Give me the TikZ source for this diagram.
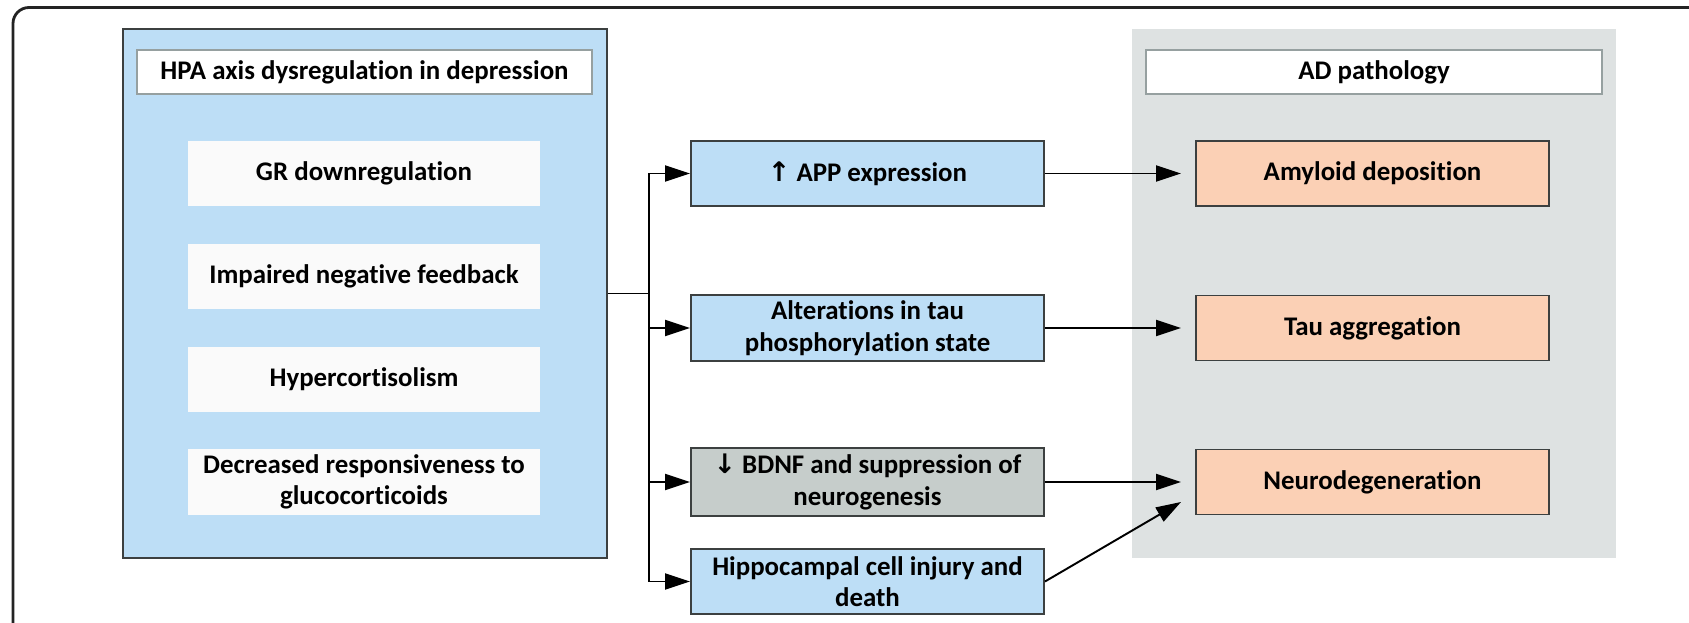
\documentclass[tikz,border=0pt]{standalone}
\usepackage{fontspec}
\setmainfont{Carlito}[Ligatures=NoCommon]
\newfontfamily\arrowfont{DejaVu Sans}
\usetikzlibrary{arrows.meta}

\definecolor{hpablue}{RGB}{189,222,246}
\definecolor{bdnfgray}{RGB}{198,205,203}
\definecolor{peach}{RGB}{251,208,181}
\definecolor{adgray}{RGB}{222,226,226}
\definecolor{itemwhite}{RGB}{250,250,250}
\definecolor{titlegray}{RGB}{150,160,160}
\definecolor{boxgray}{RGB}{60,64,64}
\definecolor{framegray}{RGB}{35,35,35}

\tikzset{
  txt/.style={font=\bfseries\fontsize{15.3}{18}\selectfont},
  panel/.style={minimum width=9.68cm, minimum height=10.58cm, inner sep=0pt},
  title/.style={txt, draw=titlegray, line width=0.8pt, fill=white, minimum width=9.1cm, minimum height=0.88cm},
  item/.style={txt, fill=itemwhite, minimum width=7.04cm, minimum height=1.3cm, align=center},
  effect/.style={txt, draw=boxgray, line width=1.1pt, fill=hpablue, minimum width=7.06cm, minimum height=1.3cm, align=center},
  outcome/.style={effect, fill=peach},
  link/.style={line width=1.1pt, -{Triangle[length=0.5cm,width=0.32cm]}}
}

\begin{document}
\begin{tikzpicture}
\useasboundingbox (0,0) rectangle (33.78,-12.44);
\draw[line width=1.6pt, framegray, rounded corners=0.32cm] (34.5,-0.15) -- (0.26,-0.15) -- (0.26,-13);

\node[panel, fill=hpablue, draw=boxgray, line width=1.1pt] (hpa) at (7.30,-5.87) {};
\node[panel, fill=adgray] (ad) at (27.48,-5.87) {};
\node[title] (hpatitle) at (7.29,-1.44) {HPA axis dysregulation in depression};
\node[title, minimum width=9.12cm] (adtitle) at (27.48,-1.44) {AD pathology};

\node[item] (gr) at (7.28,-3.47) {GR downregulation};
\node[item] (feedback) at (7.28,-5.53) {Impaired negative feedback};
\node[item] (cortisol) at (7.28,-7.58) {Hypercortisolism};
\node[item] (resp) at (7.28,-9.64) {Decreased responsiveness to\\glucocorticoids};

\node[effect] (app) at (17.35,-3.47) {{\arrowfont ↑} APP expression};
\node[effect] (tau) at (17.35,-6.56) {Alterations in tau\\phosphorylation state};
\node[effect, fill=bdnfgray] (bdnf) at (17.35,-9.64) {{\arrowfont ↓} BDNF and suppression of\\neurogenesis};
\node[effect] (hippo) at (17.35,-11.63) {Hippocampal cell injury and\\death};

\node[outcome] (amyloid) at (27.45,-3.47) {Amyloid deposition};
\node[outcome] (aggr) at (27.45,-6.56) {Tau aggregation};
\node[outcome] (neuro) at (27.45,-9.64) {Neurodegeneration};

\coordinate (split) at ([xshift=0.82cm]hpa.east);
\draw[line width=1.1pt] (hpa.east) -- (split);
\draw[link] (split) |- (app.west);
\draw[link] (split) |- (tau.west);
\draw[link] (split) |- (bdnf.west);
\draw[link] (split) |- (hippo.west);

\draw[link, shorten >=0.28cm] (app) -- (amyloid);
\draw[link, shorten >=0.28cm] (tau) -- (aggr);
\draw[link, shorten >=0.28cm] (bdnf) -- (neuro);
\draw[link] (hippo.east) -- ([shift={(-0.28,0.27)}]neuro.south west);
\end{tikzpicture}
\end{document}
